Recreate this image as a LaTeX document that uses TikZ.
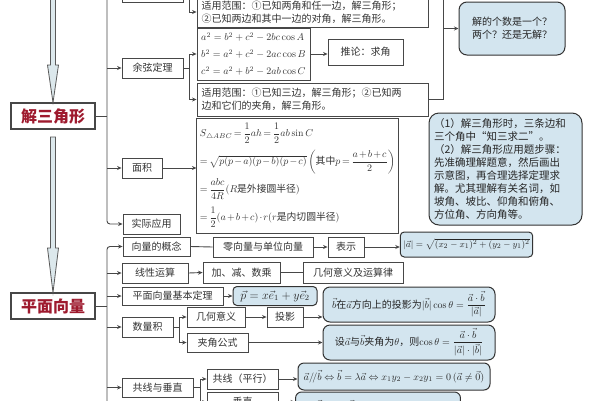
\documentclass[tikz,border=0pt]{standalone}
\usepackage{amsmath}
\usepackage{fontspec}
\newfontfamily\cjk{Noto Sans CJK SC}
\usetikzlibrary{arrows.meta}

\definecolor{linegray}{HTML}{474747}
\definecolor{boxblue}{HTML}{D3E5EF}
\definecolor{titlered}{HTML}{9E1A2E}
\definecolor{shaftblue}{HTML}{DCE8EC}

% tighter spacing for the area formulas
\newcommand\tightmath{\medmuskip=2mu\relax\thickmuskip=3mu\relax}

\begin{document}
\begin{tikzpicture}[x = 1pt, y = -1pt,
        font = \cjk\fontsize{10}{13}\selectfont,
        conn/.style = {draw = linegray, line width = 0.9pt},
        conn arrow/.style = {conn, -{Stealth[length = 4.5pt, width = 4pt]}},
        box/.style = {draw = linegray, line width = 0.9pt, fill = white, text = black!80, inner sep = 2pt},
        bluebox/.style = {draw = black!80, line width = 1pt, fill = boxblue, text = black!85, rounded corners = 4pt, inner sep = 3pt},
        title/.style = {draw = linegray, line width = 1.1pt, fill = white, text = titlered,
            font = \cjk\bfseries\fontsize{16}{18}\selectfont, minimum width = 84, minimum height = 26},
        hollow/.style = {draw = gray!70!black, line width = 0.8pt, fill = shaftblue}]

        \useasboundingbox (0, 0) rectangle (600, 400);
        \fill [white] (0, 0) rectangle (600, 400);

        % 解三角形
        \node (jie) [title] at (53, 116) {解三角形};
        \node (zx) [box, minimum width = 61, minimum height = 22] at (152.5, -9) {};
        \node (yx) [box, minimum width = 61, minimum height = 20] at (152.5, 68) {余弦定理};
        \node (mj) [box, minimum width = 40, minimum height = 20] at (142, 168) {面积};
        \node (sj) [box, minimum width = 57, minimum height = 20] at (151.5, 224) {实际应用};

        \node (sy1) [box, text width = 222, inner xsep = 4.5, minimum height = 30, align = left] at (312.5, 12)
            {适用范围：①已知两角和任一边，解三角形；\\②已知两边和其中一边的对角，解三角形。};
        \node (cos) [box, minimum width = 113, minimum height = 52, align = left,
                font = \cjk\fontsize{10}{17}\selectfont] at (253.5, 54)
            {$a^2=b^2+c^2-2bc\cos A$\\$b^2=a^2+c^2-2ac\cos B$\\$c^2=a^2+b^2-2ab\cos C$};
        \node (tl) [box, minimum width = 75, minimum height = 26] at (365.5, 52) {推论：求角};
        \node (sy2) [box, text width = 222, inner xsep = 4.5, minimum height = 33, align = left] at (312.5, 99.5)
            {适用范围：①已知三边，解三角形；②已知两\\边和它们的夹角，解三角形。};
        \node (ans) [bluebox, rounded corners = 8pt, minimum width = 106, minimum height = 53, align = left] at (512, 28.5)
            {解的个数是一个？\\两个？还是无解？};

        \node (area) [box, inner xsep = 3, minimum width = 201, minimum height = 115, align = left,
                font = \cjk\fontsize{9.8}{28}\selectfont] at (297.5, 175.5)
            {$\tightmath S_{\triangle ABC}=\dfrac12ah=\dfrac12ab\sin C$\\
             $\tightmath =\sqrt{p(p-a)(p-b)(p-c)}\left(\text{其中}p=\dfrac{a+b+c}{2}\right)$\\
             $\tightmath =\dfrac{abc}{4R}(R\text{是外接圆半径})$\\
             $\tightmath =\dfrac12(a+b+c)\cdot r(r\text{是内切圆半径})$};

        \node (note) [bluebox, rounded corners = 10pt, text width = 143, inner xsep = 5, minimum height = 112, align = left,
                font = \cjk\fontsize{10.5}{13}\selectfont] at (505.5, 169)
            {（1）解三角形时，三条边和\\三个角中“知三求二”。\\（2）解三角形应用题步骤：\\先准确理解题意，然后画出\\
             示意图，再合理选择定理求\\解。尤其理解有关名词，如\\坡角、坡比、仰角和俯角、\\方位角、方向角等。};

        % 平面向量
        \node (pv) [title] at (53, 306) {平面向量};
        \node (gn) [box, minimum width = 67, minimum height = 19] at (156.5, 246.5) {向量的概念};
        \node (xx) [box, minimum width = 66, minimum height = 20] at (155, 273) {线性运算};
        \node (jb) [box, minimum width = 101, minimum height = 18] at (172.5, 296) {平面向量基本定理};
        \node (sl) [box, minimum width = 51, minimum height = 20] at (147.5, 327) {数量积};
        \node (gc) [box, minimum width = 71, minimum height = 19] at (157.5, 387.5) {共线与垂直};

        \node (lx) [box, minimum width = 100, minimum height = 20] at (263, 247) {零向量与单位向量};
        \node (bs) [box, minimum width = 36, minimum height = 20] at (346, 247) {表示};
        \node (mo) [bluebox, minimum width = 123, minimum height = 25, font = \fontsize{9.5}{12}\selectfont] at (466.5, 244.5)
            {$|\vec a|=\sqrt{(x_2-x_1)^2+(y_2-y_1)^2}$};
        \node (jj) [box, minimum width = 77, minimum height = 21] at (241.5, 272.5) {加、减、数乘};
        \node (jh) [box, minimum width = 100, minimum height = 21] at (353, 272.5) {几何意义及运算律};
        \node (pf) [bluebox, minimum width = 84, minimum height = 19, font = \fontsize{11.5}{13}\selectfont] at (275, 296)
            {$\vec p=x\vec e_1+y\vec e_2$};
        \node (jy) [box, minimum width = 58, minimum height = 20] at (216, 317) {几何意义};
        \node (ty) [box, minimum width = 36, minimum height = 20] at (285, 317) {投影};
        \node (tyf) [bluebox, rounded corners = 7pt, minimum width = 172, minimum height = 35] at (409, 304.5)
            {$\vec b$在$\vec a$方向上的投影为$|\vec b|\cos\theta=\dfrac{\vec a\cdot\vec b}{|\vec a|}$};
        \node (jg) [box, minimum width = 61, minimum height = 19] at (217.5, 342.5) {夹角公式};
        \node (jgf) [bluebox, rounded corners = 7pt, minimum width = 172, minimum height = 35] at (409, 342.5)
            {设$\vec a$与$\vec b$夹角为$\theta$，则$\cos\theta=\dfrac{\vec a\cdot\vec b}{|\vec a|\cdot|\vec b|}$};
        \node (gx) [box, minimum width = 71, minimum height = 20] at (242.5, 379) {共线（平行）};
        \node (gxf) [bluebox, rounded corners = 6pt, minimum width = 192, minimum height = 27] at (394, 376.5)
            {$\vec a/\!/\vec b\Leftrightarrow\vec b=\lambda\vec a\Leftrightarrow x_1y_2-x_2y_1=0\,(\vec a\neq\vec 0)$};
        \node (cz) [box, minimum width = 71, minimum height = 20] at (242.5, 402) {垂直};
        \node (czf) [bluebox, rounded corners = 6pt, minimum width = 160, minimum height = 28] at (378, 406)
            {$\vec a\perp\vec b\Leftrightarrow\vec a\cdot\vec b=0\Leftrightarrow x_1x_2+y_1y_2=0$};

        % hollow arrows
        \draw [hollow]
            (50.5, -5) -- (55.5, -5) -- (55.5, 65) -- (58.5, 65) -- (jie.north)
            -- (47.5, 65) -- (50.5, 65) -- cycle
        ;
        \draw [hollow]
            (50.5, 137) -- (55.5, 137) -- (55.5, 248) -- (58.5, 248) -- (pv.north)
            -- (47.5, 248) -- (50.5, 248) -- cycle
        ;

        % connectors 解三角形
        \coordinate (ta) at (107, 0);
        \coordinate (tb) at (189, 0);
        \coordinate (tc) at (443, 0);
        \draw [conn] (jie.east) -- (jie.east -| ta);
        \draw [conn arrow, rounded corners = 3pt] (107, -15) |- (sj.west);
        \draw [conn arrow] (ta |- yx.west) -- (yx.west);
        \draw [conn arrow] (ta |- mj.west) -- (mj.west);

        \draw [conn arrow] (189, -15) |- (sy1.west);
        \draw [conn] (yx.east) -- (yx.east -| tb);
        \draw [conn arrow] (tb |- yx.east) |- (cos.west);
        \draw [conn arrow] (tb |- yx.east) |- (sy2.west);
        \draw [conn arrow] (cos.east) -- (cos.east -| tl.west);

        \draw [conn] (443, -15) |- (sy2.east);
        \draw [conn arrow] (tc |- ans.west) -- (ans.west);
        \draw [conn arrow] (mj.east) -- (mj.east -| area.west);

        % connectors 平面向量
        \coordinate (td) at (179, 0);
        \coordinate (te) at (200, 0);
        \draw [conn] (pv.east) -- (pv.east -| ta);
        \draw [conn arrow, rounded corners = 3pt] (107, 415) |- (gn.west);
        \draw [conn arrow] (ta |- xx.west) -- (xx.west);
        \draw [conn arrow] (ta |- jb.west) -- (jb.west);
        \draw [conn arrow] (ta |- sl.west) -- (sl.west);
        \draw [conn arrow] (ta |- gc.west) -- (gc.west);

        \draw [conn] (gn.east) -- (lx.west);
        \draw [conn arrow] (lx.east) -- (bs.west);
        \draw [conn arrow] (bs.east) -- (bs.east -| mo.west);
        \draw [conn arrow] (xx.east) -- (jj.west);
        \draw [conn] (jj.east) -- (jh.west);
        \draw [conn arrow] (jb.east) -- (jb.east -| pf.west);

        \draw [conn] (sl.east) -- (sl.east -| td);
        \draw [conn arrow] (td |- sl.east) |- (jy.west);
        \draw [conn arrow] (td |- sl.east) |- (jg.west);
        \draw [conn arrow] (jy.east) -- (ty.west);
        \draw [conn arrow] (ty.east) -- (ty.east -| tyf.west);
        \draw [conn arrow] (jg.east) -- (jg.east -| jgf.west);

        \draw [conn] (gc.east) -- (gc.east -| te);
        \draw [conn arrow] (te |- gc.east) |- (gx.west);
        \draw [conn arrow] (te |- gc.east) |- (cz.west);
        \draw [conn arrow] (gx.east) -- (gx.east -| gxf.west);
        \draw [conn arrow] (cz.east) -- (cz.east -| czf.west);
    \end{tikzpicture}
\end{document}
